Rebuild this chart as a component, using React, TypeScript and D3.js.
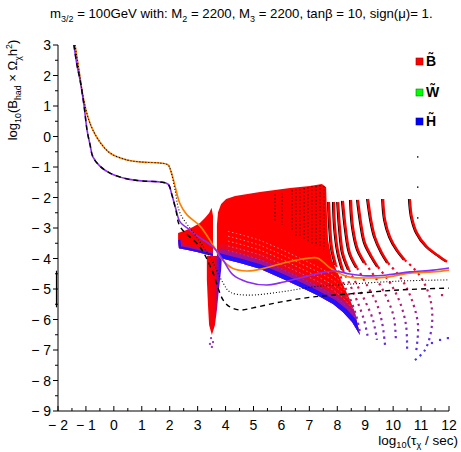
import React from "react";
import * as d3 from "d3";

type P = [number, number];

// ---------- axis / legend data ----------
const xTickLabels = [-2, -1, 0, 1, 2, 3, 4, 5, 6, 7, 8, 9, 10, 11, 12];
const xMinorTicks = [-1.5, -0.5, 0.5, 1.5, 2.5, 3.5, 4.5, 5.5, 6.5, 7.5, 8.5, 9.5, 10.5, 11.5];
const yTickLabels = [3, 2, 1, 0, -1, -2, -3, -4, -5, -6, -7, -8, -9];
const yMinorTicks = [2.5, 1.5, 0.5, -0.5, -1.5, -2.5, -3.5, -4.5, -5.5, -6.5, -7.5, -8.5];
const legendNames = ["B\u0303", "W\u0303", "H\u0303"];
const legendColors = ["#ff0000", "#00ff00", "#0000ff"];
const legendBorders = ["#a00000", "#008000", "#0000a0"];

// ---------- curves ----------
const orangeLine: P[] = [
  [-1.39, 3.0], [-1.25, 2.18], [-1.1, 1.3], [-0.93, 0.64], [-0.75, 0.21], [-0.5, -0.18],
  [-0.14, -0.54], [0.47, -0.77], [1.04, -0.84], [1.65, -0.87], [1.94, -0.93], [2.05, -1.16],
  [2.19, -1.62], [2.37, -2.21], [2.62, -2.57], [3.08, -2.93], [3.55, -3.56], [3.87, -4.02],
  [4.23, -4.31], [4.77, -4.41], [5.3, -4.34], [5.95, -4.18], [6.56, -4.05], [7.27, -3.98],
  [7.49, -4.11], [7.74, -4.31], [8.2, -4.54], [8.45, -4.61], [9.06, -4.64], [9.78, -4.61],
  [10.6, -4.48], [11.43, -4.44], [12.0, -4.38],
];
const dottedLine: P[] = [
  [-1.39, 3.0], [-1.25, 2.18], [-1.1, 1.3], [-0.93, 0.64], [-0.75, 0.21], [-0.5, -0.18],
  [-0.14, -0.54], [0.47, -0.77], [1.04, -0.84], [1.65, -0.87], [1.94, -0.93], [2.05, -1.16],
  [2.19, -1.75], [2.37, -2.51], [2.91, -3.23], [3.44, -3.95], [3.91, -4.8], [4.16, -5.1],
  [4.77, -5.2], [5.95, -5.1], [7.13, -4.93], [8.45, -4.84], [10.24, -4.74], [12.0, -4.7],
];
const purpleLine: P[] = [
  [-1.43, 3.0], [-1.32, 2.34], [-1.21, 1.85], [-1.07, 1.03], [-0.96, 0.21], [-0.85, -0.28],
  [-0.75, -0.67], [-0.5, -0.97], [-0.14, -1.2], [0.47, -1.39], [1.04, -1.46], [1.65, -1.49],
  [1.94, -1.56], [2.08, -1.92], [2.22, -2.38], [2.37, -2.8], [2.73, -3.07], [2.98, -3.26],
  [3.55, -3.62], [3.91, -4.05], [4.27, -4.54], [4.77, -4.77], [5.48, -4.87], [5.95, -4.8],
  [6.66, -4.64], [7.38, -4.48], [7.92, -4.41], [8.45, -4.51], [9.06, -4.57], [9.78, -4.54],
  [10.6, -4.44], [11.43, -4.38], [12.0, -4.31],
];
const dashedLine: P[] = [
  [-1.43, 3.0], [-1.32, 2.34], [-1.21, 1.85], [-1.07, 1.03], [-0.96, 0.21], [-0.85, -0.28],
  [-0.75, -0.67], [-0.5, -0.97], [-0.14, -1.2], [0.47, -1.39], [1.04, -1.46], [1.65, -1.49],
  [1.94, -1.56], [2.08, -1.92], [2.22, -2.41], [2.37, -2.95], [3.08, -3.62], [3.51, -4.38],
  [3.91, -5.36], [4.16, -5.59], [4.52, -5.69], [4.98, -5.62], [5.95, -5.43], [7.13, -5.26],
  [8.45, -5.16], [10.24, -5.03], [12.0, -4.97],
];

// ---------- dense scan region ----------
const blobUpperEdge: P[] = [
  [2.3, -3.39], [2.3, -3.16], [2.58, -3.07], [2.83, -2.97], [3.08, -2.84], [3.26, -2.67],
  [3.41, -2.51], [3.5, -2.34], [3.55, -2.6], [3.55, -3.92],
];
const blobLowerEdge: P[] = [
  [2.3, -3.39], [2.33, -3.66], [2.65, -3.72], [2.98, -3.79], [3.26, -3.85], [3.55, -3.92],
];
const mainUpperEdge: P[] = [
  [3.69, -3.95], [3.69, -2.9], [3.73, -2.48], [3.84, -2.21], [4.02, -2.05], [4.34, -1.95],
  [5.23, -1.82], [6.31, -1.69], [7.02, -1.62], [7.45, -1.56], [7.6, -1.66],
];
const mainRightEdge: P[] = [
  [7.63, -2.57], [7.67, -3.39], [7.81, -4.05], [8.1, -4.64], [8.38, -5.2], [8.63, -5.75], [8.81, -6.51],
];
const mainLowerEdge: P[] = [
  [3.69, -3.95], [4.09, -4.05], [4.52, -4.15], [5.23, -4.34], [6.06, -4.67], [6.66, -4.93],
  [7.27, -5.2], [7.85, -5.49], [8.2, -5.75], [8.53, -6.08], [8.81, -6.51],
];
const spikeOutline: P[] = [
  [3.33, -3.92], [3.87, -3.92], [3.84, -4.38], [3.76, -5.03], [3.69, -5.69], [3.62, -6.18],
  [3.51, -6.51], [3.41, -6.18], [3.37, -5.52], [3.33, -4.7],
];
const spikeDots: P[] = [[3.48, -6.61], [3.55, -6.74], [3.44, -6.8], [3.51, -6.9]];

const streakX = [5.77, 6.02, 6.38, 6.52, 6.66, 6.81, 6.95, 7.09, 7.24, 7.38, 7.52];
const streakTop = [-1.9, -1.85, -1.75, -1.72, -1.72, -1.69, -1.66, -1.62, -1.62, -1.59, -1.62];
const streakBottom = [-2.8, -2.9, -3.13, -3.26, -3.33, -3.39, -3.46, -3.52, -3.59, -3.66, -3.72];
// light gaps between neighbouring scan arcs, as upward offsets (in log units) of the lower edge
const arcGapOffsets = [0.3, 0.46, 0.62, 0.78, 0.94];

// ---------- separated columns (upper dense part + sparse tail) ----------
const columnUpper: P[][] = [
  [[7.7, -2.15], [7.74, -2.9], [7.81, -3.66], [7.95, -4.21]],
  [[7.88, -2.15], [7.92, -3.0], [8.03, -3.79], [8.2, -4.38]],
  [[8.03, -2.15], [8.1, -3.07], [8.2, -3.82], [8.42, -4.38]],
  [[8.2, -2.11], [8.31, -3.07], [8.45, -3.82], [8.71, -4.31]],
  [[8.49, -2.08], [8.56, -2.97], [8.74, -3.72], [8.99, -4.15]],
  [[8.74, -2.08], [8.85, -2.84], [8.99, -3.49], [9.24, -3.95], [9.46, -4.28]],
  [[9.1, -2.05], [9.21, -2.74], [9.35, -3.3], [9.6, -3.82], [9.82, -4.15]],
  [[9.64, -2.05], [9.71, -2.74], [9.89, -3.3], [10.14, -3.72], [10.42, -4.05]],
  [[10.6, -2.05], [10.67, -2.64], [10.85, -3.16], [11.21, -3.62], [11.68, -3.95], [11.93, -4.11]],
];
const columnTail: P[][] = [
  [[7.95, -4.21], [8.2, -4.77], [8.45, -5.3], [8.67, -5.85], [8.81, -6.41]],
  [[8.2, -4.38], [8.49, -4.93], [8.74, -5.46], [8.96, -6.02], [9.1, -6.61]],
  [[8.42, -4.38], [8.74, -4.93], [9.03, -5.46], [9.28, -6.02], [9.42, -6.67]],
  [[8.71, -4.31], [9.06, -4.87], [9.39, -5.43], [9.6, -6.08], [9.71, -6.84]],
  [[8.99, -4.15], [9.42, -4.7], [9.78, -5.3], [10.03, -5.95], [10.1, -6.74]],
  [[9.46, -4.28], [9.89, -4.8], [10.24, -5.43], [10.46, -6.18], [10.5, -7.0]],
  [[9.82, -4.15], [10.32, -4.7], [10.67, -5.36], [10.89, -6.18], [10.82, -7.07]],
  [[10.42, -4.05], [10.96, -4.57], [11.32, -5.3], [11.39, -6.18], [11.14, -7.0], [10.78, -7.33]],
];
const strayPoints: P[] = [[11.39, -6.77], [11.68, -6.67], [11.96, -6.61], [11.75, -5.2]];
const blackDots: P[] = [[10.88, -0.67], [10.88, -1.66], [10.88, -2.67]];

// ---------- scales ----------
const W = 461;
const H = 452;
const x = d3.scaleLinear().domain([-2, 12]).range([58, 449]);
const y = d3.scaleLinear().domain([-9, 3]).range([411, 45]);
const tailColor = d3
  .scaleLinear<string>()
  .domain([-4.0, -4.9, -5.5, -6.1, -7.2])
  .range(["#ff0010", "#d81450", "#b01c80", "#7a2acc", "#3a3aff"]);

const curve = (pts: P[], c: d3.CurveFactory = d3.curveCatmullRom) =>
  d3.line<P>().x((d) => x(d[0])).y((d) => y(d[1])).curve(c)(pts) || "";

const fmt = (v: number) => (v < 0 ? "\u2212 " + Math.abs(v) : String(v));

const FONT = "Liberation Sans, Arial, Helvetica, sans-serif";

const rich = (parts: [string, number][], fs: number, subShift = 0.3) => {
  let shift = 0;
  return parts.map(([t, k], i) => {
    const target = k === 1 ? fs * subShift : k === 2 ? -fs * 0.4 : 0;
    const dy = target - shift;
    shift = target;
    return (
      <tspan key={i} dy={dy} fontSize={k ? fs * 0.68 : fs}>
        {t}
      </tspan>
    );
  });
};

const bandStyles = [
  // [main width, blob width, colour, opacity]
  [30, 11, "#c0105a", 0.35],
  [18, 7.5, "#8a18b8", 0.75],
  [9, 4.5, "#2010ff", 1],
] as const;

export default function App() {
  const blobPoly = curve([...blobUpperEdge, ...blobLowerEdge.slice().reverse()], d3.curveLinearClosed);
  const mainPoly = curve(
    [...mainUpperEdge, ...mainRightEdge, ...mainLowerEdge.slice().reverse()],
    d3.curveLinearClosed
  );
  const gy0 = y(-4.0);
  const gy1 = y(-7.3);
  const unitPx = y(0) - y(1);
  return (
    <div style={{ position: "absolute", left: 0, top: 0 }}>
      <svg width={W} height={H} style={{ display: "block", background: "#fff" }} fontFamily={FONT}>
        <defs>
          <clipPath id="plotClip">
            <rect x={x(-2)} y={y(3)} width={x(12) - x(-2) + 2} height={y(-9) - y(3)} />
          </clipPath>
          <clipPath id="mainClip">
            <path d={mainPoly} />
          </clipPath>
          <clipPath id="blobClip">
            <path d={blobPoly} />
          </clipPath>
          <linearGradient id="tailGrad" gradientUnits="userSpaceOnUse" x1={0} y1={gy0} x2={0} y2={gy1}>
            <stop offset="0" stopColor="#ff0010" />
            <stop offset="0.28" stopColor="#d81450" />
            <stop offset="0.5" stopColor="#b01c80" />
            <stop offset="0.72" stopColor="#7a2acc" />
            <stop offset="1" stopColor="#3a3aff" />
          </linearGradient>
          <linearGradient id="spikeGrad" gradientUnits="userSpaceOnUse" x1={x(3.33)} y1={0} x2={x(3.87)} y2={0}>
            <stop offset="0" stopColor="#ff0000" />
            <stop offset="0.55" stopColor="#f00010" />
            <stop offset="0.75" stopColor="#7010d0" />
            <stop offset="1" stopColor="#1010ff" />
          </linearGradient>
        </defs>

        <g clipPath="url(#plotClip)">
          {/* dense region */}
          <path d={blobPoly} fill="#ff0000" />
          <path d={mainPoly} fill="#ff0000" />
          <g clipPath="url(#mainClip)" fill="none" strokeLinejoin="round">
            {arcGapOffsets.map((o, i) => (
              <path
                key={"g" + i}
                d={curve(mainLowerEdge.filter((p) => p[0] > 4.0), d3.curveLinear)}
                transform={`translate(0,${-o * unitPx})`}
                stroke="#fff"
                strokeWidth={0.9}
                strokeDasharray="1.5 2.5"
                opacity={0.55}
              />
            ))}
            {bandStyles.map(([wm, , col, op], i) => (
              <path key={i} d={curve(mainLowerEdge, d3.curveLinear)} stroke={col} opacity={op} strokeWidth={wm} />
            ))}
          </g>
          <g clipPath="url(#blobClip)" fill="none" strokeLinejoin="round">
            {bandStyles.map(([, wb, col, op], i) => (
              <path key={i} d={curve(blobLowerEdge, d3.curveLinear)} stroke={col} opacity={op} strokeWidth={wb} />
            ))}
          </g>
          {/* black streaks in the dense part */}
          {streakX.map((sx, i) => (
            <line
              key={i}
              x1={x(sx)}
              x2={x(sx)}
              y1={y(streakTop[i])}
              y2={y(streakBottom[i])}
              stroke="#000"
              strokeWidth={1}
              strokeDasharray="1.5 2"
              opacity={0.8}
            />
          ))}
          {/* tail spike */}
          <path d={curve(spikeOutline, d3.curveLinearClosed)} fill="url(#spikeGrad)" />
          {spikeDots.map((p, i) => (
            <rect key={i} x={x(p[0]) - 1} y={y(p[1]) - 1} width={2} height={2} fill="#9040c0" />
          ))}
          {/* columns */}
          {columnTail.map((c, i) => (
            <path
              key={"t" + i}
              d={curve(c)}
              fill="none"
              stroke="url(#tailGrad)"
              strokeWidth={2.2}
              strokeDasharray="2.2 4"
            />
          ))}
          {columnUpper.map((c, i) => (
            <g key={"u" + i} fill="none">
              <path d={curve(c)} stroke="#000" strokeWidth={1.2} transform="translate(-1.4,0)" />
              <path d={curve(c)} stroke="#ff0000" strokeWidth={2.4} />
            </g>
          ))}
          {strayPoints.map((p, i) => (
            <rect key={i} x={x(p[0]) - 1.1} y={y(p[1]) - 1.1} width={2.2} height={2.2} fill={tailColor(p[1])} />
          ))}
          {blackDots.map((p, i) => (
            <rect key={i} x={x(p[0]) - 0.7} y={y(p[1]) - 0.7} width={1.4} height={1.4} fill="#000" />
          ))}
          {/* lines */}
          <path d={curve(orangeLine)} fill="none" stroke="#ff8000" strokeWidth={1.6} />
          <path d={curve(purpleLine)} fill="none" stroke="#8b2cf5" strokeWidth={1.6} />
          <path d={curve(dottedLine)} fill="none" stroke="#000" strokeWidth={1.1} strokeDasharray="1 2" />
          <path d={curve(dashedLine)} fill="none" stroke="#000" strokeWidth={1.4} strokeDasharray="5 4" />
        </g>

        {/* axes */}
        <g stroke="#000" strokeWidth={1}>
          <line x1={x(-2)} x2={x(-2)} y1={y(3)} y2={y(-9)} />
          <line x1={x(-2)} x2={x(12)} y1={y(-9)} y2={y(-9)} />
          <line x1={x(-2) - 1.5} x2={x(-2) - 1.5} y1={y(-4.4)} y2={y(-5.6)} strokeWidth={1.2} />
          {yTickLabels.map((v) => (
            <line key={"ym" + v} x1={x(-2) - 5} x2={x(-2)} y1={y(v)} y2={y(v)} />
          ))}
          {yMinorTicks.map((v) => (
            <line key={"yn" + v} x1={x(-2) - 3} x2={x(-2)} y1={y(v)} y2={y(v)} />
          ))}
          {xTickLabels.map((v) => (
            <line key={"xm" + v} x1={x(v)} x2={x(v)} y1={y(-9)} y2={y(-9) - 5} />
          ))}
          {xMinorTicks.map((v) => (
            <line key={"xn" + v} x1={x(v)} x2={x(v)} y1={y(-9)} y2={y(-9) - 3} />
          ))}
        </g>
        <g fontSize={14} fill="#000">
          {yTickLabels.map((v) => (
            <text key={"yl" + v} x={x(-2) - 7} y={y(v) + 5} textAnchor="end">
              {fmt(v)}
            </text>
          ))}
          {xTickLabels.map((v) => (
            <text key={"xl" + v} x={x(v)} y={y(-9) + 19} textAnchor="middle">
              {fmt(v)}
            </text>
          ))}
        </g>

        {/* titles */}
        <text x={50} y={18} fontSize={13.2}>
          {rich(
            [
              ["m", 0], ["3/2", 1], [" = 100GeV with: M", 0], ["2", 1], [" = 2200, M", 0], ["3", 1],
              [" = 2200, tan\u03b2 = 10, sign(\u03bc)= 1.", 0],
            ],
            13.2
          )}
        </text>
        <text transform="translate(17,90) rotate(-90)" textAnchor="middle" fontSize={13}>
          {rich(
            [["log", 0], ["10", 1], ["(B", 0], ["had", 1], [" \u00d7 \u03a9", 0], ["\u03c7", 1], ["h", 0], ["2", 2], [")", 0]],
            13
          )}
        </text>
        <text x={458} y={445} textAnchor="end" fontSize={13.5}>
          {rich([["log", 0], ["10", 1], ["(\u03c4", 0], ["\u03c7", 1], [" / sec)", 0]], 13.5, 0.22)}
        </text>

        {/* legend */}
        {legendNames.map((n, i) => {
          const ly = [58, 89, 118][i];
          return (
            <g key={n}>
              <rect x={416} y={ly} width={7} height={7} fill={legendColors[i]} stroke={legendBorders[i]} strokeWidth={0.6} />
              <text x={426} y={ly + 7.5} fontSize={14} fontWeight="bold">
                {n}
              </text>
            </g>
          );
        })}
      </svg>
    </div>
  );
}
